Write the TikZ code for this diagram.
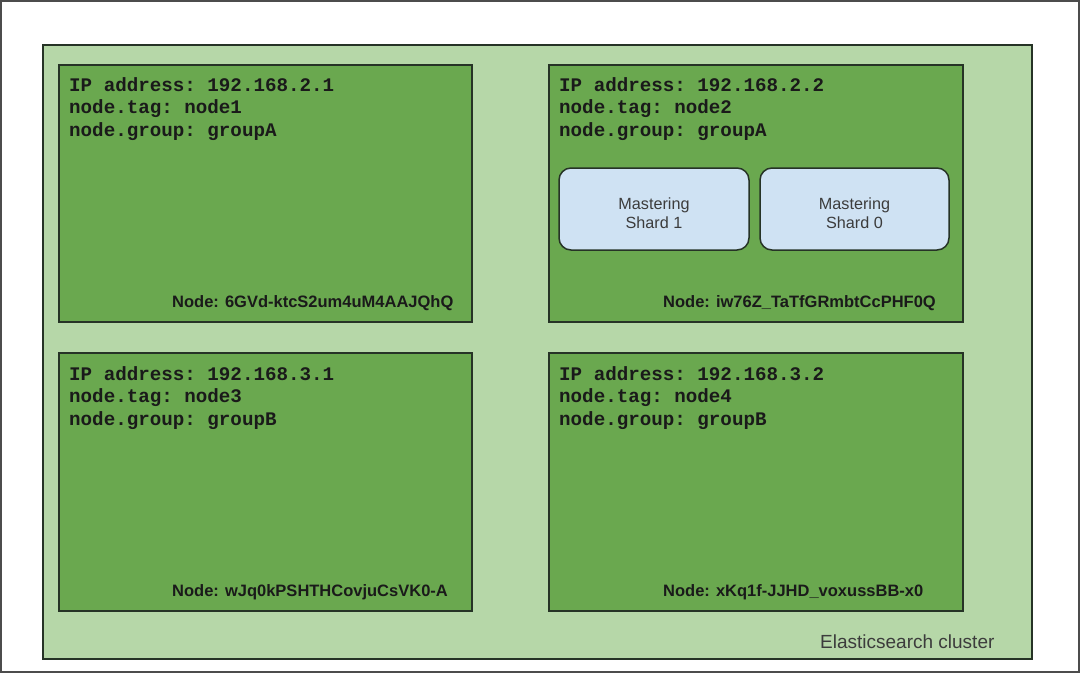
\documentclass[tikz,border=0pt]{standalone}
\usepackage{fontspec}
\setmainfont{Liberation Sans}
\setmonofont{Liberation Mono}
\definecolor{clusterfill}{HTML}{B6D7A8}
\definecolor{boxfill}{HTML}{6AA84F}
\definecolor{shardfill}{HTML}{CFE2F3}
\definecolor{edge}{HTML}{263326}
\definecolor{txt}{HTML}{1A1A1A}
\tikzset{
  frame/.style={draw=black!70, line width=2pt},
  cluster/.style={draw=edge, line width=1.6pt, fill=clusterfill},
  hostbox/.style={draw=edge, line width=1.8pt, fill=boxfill},
  shard/.style={draw=edge, line width=1.5pt, fill=shardfill, rounded corners=12pt},
  info/.style={anchor=north west, align=left, inner sep=0pt, text=txt,
    font=\fontsize{19.2}{22.5}\selectfont\ttfamily\bfseries},
  nodeid/.style={anchor=base west, inner sep=0pt, text=txt,
    font=\fontsize{16.5}{19}\selectfont\bfseries},
  shardtxt/.style={align=center, inner sep=0pt, text=txt!85,
    font=\fontsize{16.2}{19.5}\selectfont},
  clustertxt/.style={anchor=base west, inner sep=0pt, text=txt!85,
    font=\fontsize{19}{22}\selectfont}
}
\begin{document}
\begin{tikzpicture}[x=1pt,y=-1pt]
\useasboundingbox (0,0) rectangle (1081,674);
\draw[frame] (1,1) rectangle (1079,672);
\draw[cluster] (43,45) rectangle (1032,659);
% host boxes
\draw[hostbox] (59,65) rectangle (472,322);
\draw[hostbox] (549,65) rectangle (963,322);
\draw[hostbox] (59,353) rectangle (472,611);
\draw[hostbox] (549,353) rectangle (963,611);
% info text
\node[info] (i1) at (69,77) {IP address: 192.168.2.1\\node.tag: node1\\node.group: groupA};
\node[info] (i2) at (559,77) {IP address: 192.168.2.2\\node.tag: node2\\node.group: groupA};
\node[info] (i3) at (69,366) {IP address: 192.168.3.1\\node.tag: node3\\node.group: groupB};
\node[info] (i4) at (559,366) {IP address: 192.168.3.2\\node.tag: node4\\node.group: groupB};
% node ids
\node[nodeid] (n1) at (172,307) {Node: 6GVd-ktcS2um4uM4AAJQhQ};
\node[nodeid] (n2) at (663,307) {Node: iw76Z\_TaTfGRmbtCcPHF0Q};
\node[nodeid] (n3) at (172,596) {Node: wJq0kPSHTHCovjuCsVK0-A};
\node[nodeid] (n4) at (663,596) {Node: xKq1f-JJHD\_voxussBB-x0};
% shards
\draw[shard] (559,168) rectangle (749,250);
\draw[shard] (760,168) rectangle (949,250);
\node[shardtxt] (s1) at (654,213) {Mastering\\Shard 1};
\node[shardtxt] (s0) at (854.5,213) {Mastering\\Shard 0};
% cluster label
\node[clustertxt] (cl) at (820,648) {Elasticsearch cluster};
\end{tikzpicture}
\end{document}
